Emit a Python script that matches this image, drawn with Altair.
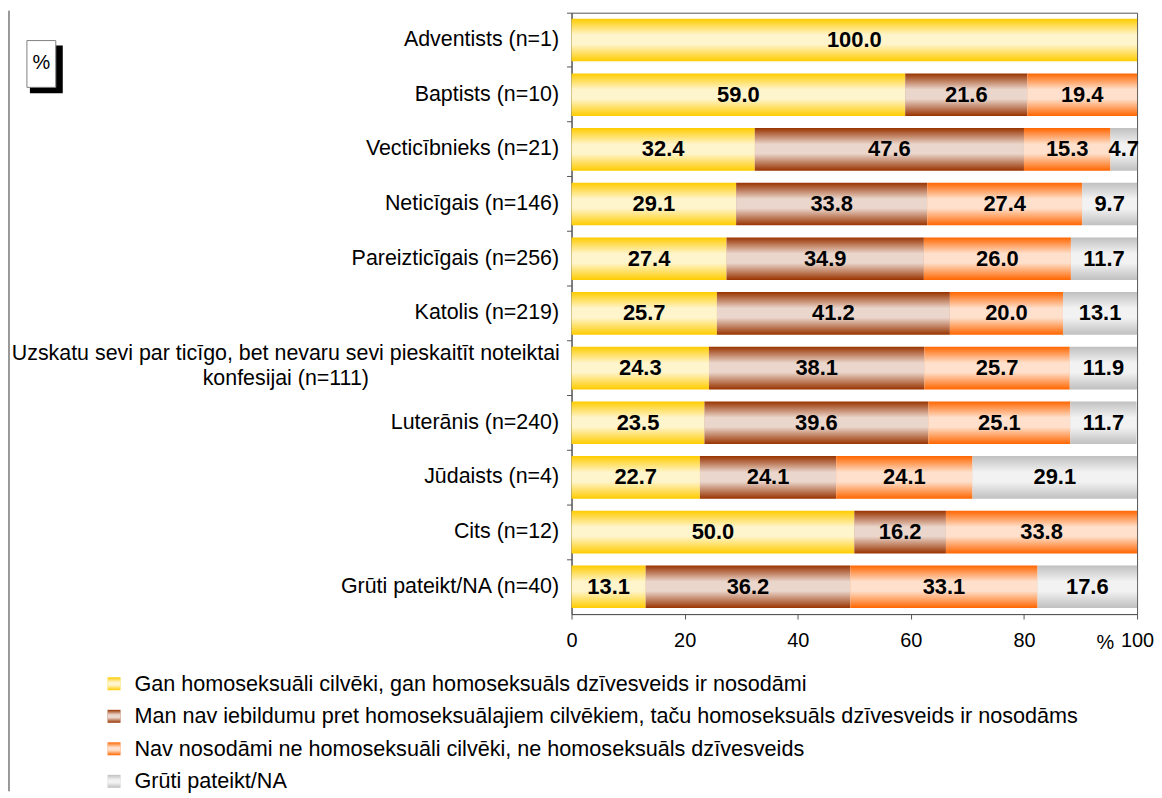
import altair as alt
import pandas as pd

FONT = "Liberation Sans"

categories = [
    "Adventists (n=1)",
    "Baptists (n=10)",
    "Vecticībnieks (n=21)",
    "Neticīgais (n=146)",
    "Pareizticīgais (n=256)",
    "Katolis (n=219)",
    "Uzskatu sevi par ticīgo, bet nevaru sevi pieskaitīt noteiktai|konfesijai (n=111)",
    "Luterānis (n=240)",
    "Jūdaists (n=4)",
    "Cits (n=12)",
    "Grūti pateikt/NA (n=40)",
]
series = [
    "Gan homoseksuāli cilvēki, gan homoseksuāls dzīvesveids ir nosodāmi",
    "Man nav iebildumu pret homoseksuālajiem cilvēkiem, taču homoseksuāls dzīvesveids ir nosodāms",
    "Nav nosodāmi ne homoseksuāli cilvēki, ne homoseksuāls dzīvesveids",
    "Grūti pateikt/NA",
]
s1 = [100.0, 59.0, 32.4, 29.1, 27.4, 25.7, 24.3, 23.5, 22.7, 50.0, 13.1]
s2 = [0.0, 21.6, 47.6, 33.8, 34.9, 41.2, 38.1, 39.6, 24.1, 16.2, 36.2]
s3 = [0.0, 19.4, 15.3, 27.4, 26.0, 20.0, 25.7, 25.1, 24.1, 33.8, 33.1]
s4 = [0.0, 0.0, 4.7, 9.7, 11.7, 13.1, 11.9, 11.7, 29.1, 0.0, 17.6]
colors = ["#FFCC00", "#993300", "#FF6600", "#C0C0C0"]
x_ticks = [0, 20, 40, 60, 80, 100]

rows = []
for i, c in enumerate(categories):
    for j, vals in enumerate([s1, s2, s3, s4]):
        rows.append({"cat": c, "series": series[j], "order": j, "value": vals[i]})
df = pd.DataFrame(rows)
leg_df = pd.DataFrame({"series": series, "order": list(range(4))})
long_df = pd.DataFrame({"cat": [c for c in categories if "|" in c]})
one = pd.DataFrame({"k": [0]})

GRAD = alt.LinearGradient(
    gradient="linear",
    x1=0, x2=0, y1=0, y2=1,
    stops=[
        alt.GradientStop(offset=0, color="rgba(255,255,255,0)"),
        alt.GradientStop(offset=0.38, color="rgba(255,255,255,0.8)"),
        alt.GradientStop(offset=0.6, color="rgba(255,255,255,0.8)"),
        alt.GradientStop(offset=1, color="rgba(255,255,255,0)"),
    ],
)

color_scale = alt.Scale(domain=series, range=colors)
x_scale = alt.Scale(domain=[0, 100], nice=False)

Y = alt.Y(
    "cat:N",
    sort=categories,
    scale=alt.Scale(paddingInner=0.22, paddingOuter=0.11),
    axis=alt.Axis(
        title=None,
        labelExpr="indexof(datum.value, '|') >= 0 ? '' : datum.label",
        labelFontSize=21.5,
        labelFont=FONT,
        labelColor="black",
        labelPadding=8,
        labelLimit=800,
        tickSize=5,
        bandPosition=-0.141,
        grid=False,
    ),
)
X = alt.X(
    "x0:Q",
    scale=x_scale,
    axis=alt.Axis(
        title=None,
        values=x_ticks,
        grid=False,
        labelFontSize=20,
        labelFont=FONT,
        labelColor="black",
        tickSize=5,
        labelPadding=12,
        labelFlush=False,
    ),
)

base = (
    alt.Chart(df)
    .transform_filter("datum.value > 0")
    .transform_stack(
        stack="value", groupby=["cat"], as_=["x0", "x1"],
        sort=[alt.SortField("order", order="ascending")],
    )
)

bars = base.mark_bar().encode(
    y=Y, x=X, x2="x1:Q",
    color=alt.Color("series:N", scale=color_scale, legend=None),
)
overlay = base.mark_bar(fill=GRAD).encode(y=Y, x=X, x2="x1:Q")
labels = (
    base.transform_calculate(mid="(datum.x0 + datum.x1) / 2")
    .mark_text(font=FONT, fontSize=22, fontWeight="bold", color="black")
    .encode(y=Y, x=alt.X("mid:Q", scale=x_scale), text=alt.Text("value:Q", format=".1f"))
)
long_label = alt.Chart(long_df).mark_text(
    font=FONT, fontSize=21.5, color="black", align="center", baseline="middle",
    lineBreak="|", lineHeight=25, dy=-14,
).encode(y=Y, x=alt.value(-287), text="cat:N")
pct_axis = alt.Chart(one).mark_text(font=FONT, fontSize=20, color="black").encode(
    x=alt.datum(94.4), y=alt.value(633), text=alt.value("%")
)

main = alt.layer(bars, overlay, labels, long_label, pct_axis)

leg_y = alt.Y(
    "series:N", sort=series,
    scale=alt.Scale(type="point", domain=series, range=[674, 772], padding=0),
    axis=None,
)
sw = alt.Chart(leg_df).mark_square(size=169, opacity=1).encode(
    x=alt.value(-459.5), y=leg_y,
    color=alt.Color("series:N", scale=color_scale, legend=None),
)
sw_ov = alt.Chart(leg_df).mark_square(size=169, opacity=1, fill=GRAD).encode(
    x=alt.value(-459.5), y=leg_y
)
leg_txt = alt.Chart(leg_df).mark_text(
    align="left", baseline="middle", font=FONT, fontSize=21.7, color="black"
).encode(x=alt.value(-439), y=leg_y, text="series:N")
legend = alt.layer(sw, sw_ov, leg_txt)

shadow = alt.Chart(one).mark_rect(color="black").encode(
    x=alt.value(-544), x2=alt.value(-511), y=alt.value(33), y2=alt.value(81)
)
box = alt.Chart(one).mark_rect(fill="white", stroke="#808080", strokeWidth=1).encode(
    x=alt.value(-547), x2=alt.value(-518), y=alt.value(28), y2=alt.value(75)
)
box_txt = alt.Chart(one).mark_text(font=FONT, fontSize=20, color="black").encode(
    x=alt.value(-532.5), y=alt.value(51), text=alt.value("%")
)
border = alt.Chart(one).mark_rule(color="#333333").encode(
    x=alt.value(-565), y=alt.value(-2), y2=alt.value(782)
)
deco = alt.layer(border, shadow, box, box_txt)

chart = (
    alt.layer(main, legend, deco)
    .resolve_scale(y="independent")
    .properties(width=568, height=604, padding=0)
    .configure_view(stroke="#555555", strokeWidth=1)
    .configure_axis(domainColor="#555555", tickColor="#555555")
)

chart.save("out.html", embed_options={"renderer": "svg", "actions": False})
